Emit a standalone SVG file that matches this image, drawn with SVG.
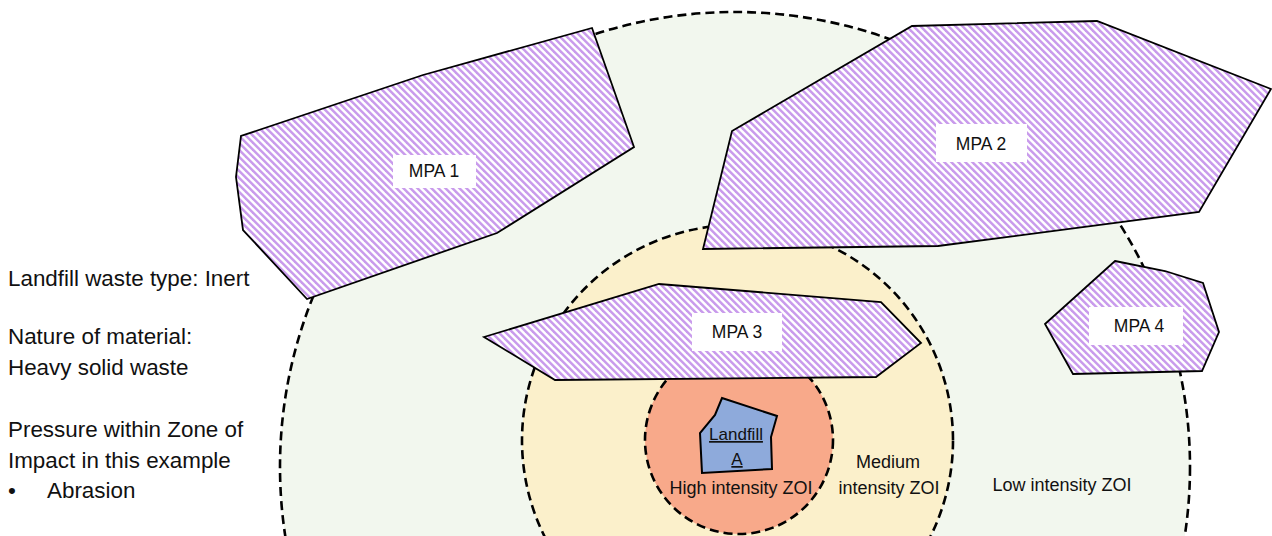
<svg xmlns="http://www.w3.org/2000/svg" width="1272" height="536" viewBox="0 0 1272 536">
  <defs>
    <pattern id="hatch" patternUnits="userSpaceOnUse" x="0" y="0" width="7" height="7">
      <rect x="0" y="0" width="7" height="7" fill="#ffffff"/>
      <polygon points="0,0 7,7 3.5,7 0,3.5" fill="#c99bec"/>
      <polygon points="3.5,0 7,0 7,3.5" fill="#c99bec"/>
    </pattern>
  </defs>
  <style>
    .zone { stroke: #000; stroke-width: 2.6; stroke-dasharray: 9 5; }
    .mpa { fill: url(#hatch); stroke: #000; stroke-width: 1.8; stroke-linejoin: miter; }
    .lbox { fill: #ffffff; }
    .t { font-family: "Liberation Sans", Arial, sans-serif; fill: #111; }
    .lbl { font-size: 17.5px; text-anchor: middle; }
    .side { font-size: 22.4px; }
  </style>
  <rect width="1272" height="536" fill="#ffffff"/>

  <g id="zone-low">
    <circle class="zone" cx="735" cy="467" r="455" fill="#f2f7ee"/>
  </g>
  <g id="zone-medium">
    <circle class="zone" cx="737.5" cy="440.5" r="215.5" fill="#fbf0cb"/>
  </g>
  <g id="zone-high">
    <circle class="zone" cx="739" cy="440" r="94" fill="#f8a98a"/>
  </g>

  <g id="mpa1">
    <polygon class="mpa" points="592,28 634,147 497,233 307,299 243,230 236,177 241,136 423,75"/>
    <rect class="lbox" x="393" y="155" width="83" height="33"/>
    <text class="t lbl" x="434" y="177">MPA 1</text>
  </g>

  <g id="mpa2">
    <polygon class="mpa" points="912,26 1097,21 1271,89 1199,212 938,246 703,249 732,131"/>
    <rect class="lbox" x="936" y="124" width="91" height="38"/>
    <text class="t lbl" x="981" y="150">MPA 2</text>
  </g>

  <g id="mpa3">
    <polygon class="mpa" points="484,337 659,284 881,302 921,343 876,377 555,380"/>
    <rect class="lbox" x="692" y="313" width="90" height="38"/>
    <text class="t lbl" x="737" y="338">MPA 3</text>
  </g>

  <g id="mpa4">
    <polygon class="mpa" points="1115,261 1165,271 1203,283 1219,332 1202,371 1073,374 1045,324"/>
    <rect class="lbox" x="1089" y="307" width="94" height="38"/>
    <text class="t lbl" x="1139" y="332">MPA 4</text>
  </g>

  <g id="landfill">
    <polygon points="722,398 777,416 771,437 772,469 702,473 700,433 715,415" fill="#8eaadb" stroke="#000" stroke-width="2"/>
    <text class="t" x="736" y="440" font-size="17" text-anchor="middle" text-decoration="underline">Landfill</text>
    <text class="t" x="737" y="465" font-size="17" text-anchor="middle" text-decoration="underline">A</text>
  </g>

  <g id="zone-labels">
    <text class="t" x="741" y="494" font-size="18" text-anchor="middle">High intensity ZOI</text>
    <text class="t" x="888" y="468" font-size="18" text-anchor="middle">Medium</text>
    <text class="t" x="889" y="494" font-size="18" text-anchor="middle">intensity ZOI</text>
    <text class="t" x="1062" y="491" font-size="18" text-anchor="middle">Low intensity ZOI</text>
  </g>

  <g id="side-notes">
    <text class="t side" x="8" y="285.5">Landfill waste type: Inert</text>
    <text class="t side" x="8" y="344">Nature of material:</text>
    <text class="t side" x="8" y="374.5">Heavy solid waste</text>
    <text class="t side" x="8" y="437">Pressure within Zone of</text>
    <text class="t side" x="8" y="467.5">Impact in this example</text>
    <text class="t side" x="8" y="497.5">•</text>
    <text class="t side" x="47" y="497.5">Abrasion</text>
  </g>

  <g id="connectors"></g>
</svg>
